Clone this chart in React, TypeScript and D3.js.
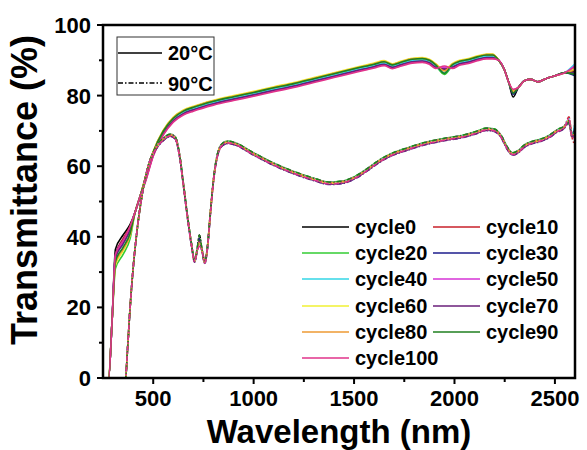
import React from 'react'
import * as d3 from 'd3'

// legend / series names and colours
const cycles = ['cycle0', 'cycle10', 'cycle20', 'cycle30', 'cycle40', 'cycle50', 'cycle60', 'cycle70', 'cycle80', 'cycle90', 'cycle100']
const colors = ['#000000', '#c8202a', '#33cc33', '#1c1c8c', '#33d6e6', '#d633d6', '#f0f033', '#6a1f7a', '#ee9a33', '#1f7f1f', '#e0338a']

// 20°C base curve (nm, %)
const wl20 = [250, 278, 295, 312, 350, 385, 410, 435, 460, 500, 550, 600, 650, 700, 800, 900, 1000, 1100, 1200, 1300, 1400, 1500, 1600, 1650, 1690, 1730, 1790, 1840, 1875, 1905, 1950, 1990, 2025, 2070, 2110, 2160, 2190, 2220, 2248, 2270, 2292, 2318, 2348, 2380, 2415, 2455, 2500, 2550, 2600]
const t20 = [0, 0, 16, 33, 38, 42, 47, 51.5, 56, 63.5, 69.5, 73.2, 75.2, 76.3, 78, 79.3, 80.5, 81.8, 83, 84.4, 85.8, 87.2, 88.5, 89.2, 88.3, 89, 89.9, 90.1, 89.6, 88.4, 87.5, 88.4, 89.3, 89.8, 90.5, 91.1, 91.1, 90, 87.4, 83.8, 81, 82.3, 84.2, 84.6, 83.9, 84.8, 85.6, 86.5, 87]
// per-cycle readings for 20°C
const at312 = [36.5, 35, 31, 35, 34, 34.5, 32, 34, 32.5, 33, 35]
const at350 = [40.5, 39.5, 35, 39, 38, 38.5, 36, 38, 36.5, 37, 39]
const at385 = [43.5, 43, 39.5, 42.5, 42, 42.5, 40.5, 42, 40.5, 41, 43]
const level20 = [0.5, 0.2, 0.1, -0.2, 0, -0.5, 0.7, -0.3, 0.5, 0.4, -0.7]
const dip1950 = [86.4, 87.6, 86, 87.2, 86.5, 88, 87.3, 87.5, 87, 86.3, 88.4]
const dip2292 = [79.6, 81.2, 81, 80.4, 81.3, 81.6, 81.4, 80.9, 81.2, 80.7, 81.8]
const end20 = [87, 87.6, 86, 85.6, 89, 88.5, 87.6, 86.5, 87.2, 86, 88.2]

// 90°C base curve
const wl90 = [250, 362, 372, 385, 400, 420, 445, 475, 510, 550, 585, 610, 630, 650, 670, 690, 706, 718, 730, 742, 757, 770, 785, 800, 820, 845, 870, 900, 1000, 1100, 1200, 1300, 1380, 1450, 1510, 1570, 1630, 1690, 1760, 1850, 1950, 2050, 2110, 2160, 2200, 2235, 2262, 2290, 2318, 2350, 2390, 2430, 2470, 2510, 2545, 2570, 2585, 2600]
const t90 = [0, 0, 8, 20, 31, 42, 52, 60, 64.8, 67.6, 68.8, 68, 63.5, 55, 46, 38, 33.2, 36, 39, 36.5, 32.8, 37, 47, 56, 63.2, 66.2, 66.8, 66.5, 63.5, 60.6, 58.2, 56.3, 55.2, 55.6, 57, 59.2, 61.6, 63.4, 64.8, 66.4, 67.6, 68.6, 69.6, 70.5, 70.2, 68.2, 65.2, 63.5, 64.2, 65.8, 66.8, 67.4, 68.4, 70, 71, 73, 68.5, 70]
// per-cycle readings for 90°C
const level90 = [0.2, -0.2, 0.3, -0.3, 0, 0.2, -0.1, -0.4, 0.1, 0.3, -0.2]
const bump730 = [40.5, 39.5, 39, 39.5, 38.5, 38, 38.5, 39, 38.5, 40.5, 37.3]
const spike2570 = [73, 74, 72, 72.5, 73.5, 72, 73, 72.5, 73, 72.5, 73.5]
const end90 = [72, 66, 70.5, 71, 72.5, 69, 70, 71, 69.5, 70.5, 68]

const xTicks = [500, 1000, 1500, 2000, 2500]
const xMinor = [750, 1250, 1750, 2250]
const yTicks = [0, 20, 40, 60, 80, 100]
const yMinor = [10, 30, 50, 70, 90]

const W = 587
const H = 450
const left = 103
const right = 575
const top = 25
const bottom = 378
const font = "'Liberation Sans', Arial, sans-serif"

function series20(c: number): [number, number][] {
  return wl20.map((w, i) => {
    let v = t20[i]
    if (w === 312) v = at312[c]
    else if (w === 350) v = at350[c]
    else if (w === 385) v = at385[c]
    else if (w === 1950) v = dip1950[c]
    else if (w === 2292) v = dip2292[c]
    else if (w === 2600) v = end20[c]
    else if (w >= 460 && w <= 2200) v = v + level20[c]
    return [w, v]
  })
}

function series90(c: number): [number, number][] {
  return wl90.map((w, i) => {
    let v = t90[i]
    if (w === 730) v = bump730[c]
    else if (w === 2570) v = spike2570[c]
    else if (w === 2600) v = end90[c]
    else if (w >= 500) v = v + level90[c]
    return [w, v]
  })
}

export default function App() {
  const x = d3.scaleLinear().domain([250, 2600]).range([left, right])
  const y = d3.scaleLinear().domain([0, 100]).range([bottom, top])
  const line = d3
    .line<[number, number]>()
    .x(d => x(d[0]))
    .y(d => y(d[1]))
    .curve(d3.curveMonotoneX)

  const dash = '5 2 1.5 2'
  const rowY = [227, 253, 279, 306, 332, 358]

  return (
    <svg width={W} height={H} style={{ position: 'absolute', left: 0, top: 0, background: '#fff' }} fontFamily={font}>
      <rect x={0} y={0} width={W} height={H} fill="#fff" />
      <defs>
        <clipPath id="plot">
          <rect x={left} y={top - 2} width={right - left} height={bottom - top + 2} />
        </clipPath>
      </defs>

      {/* curves */}
      <g clipPath="url(#plot)" fill="none" strokeWidth={1.6}>
        {cycles.map((c, i) => (
          <path key={'a' + c} d={line(series20(i)) || ''} stroke={colors[i]} />
        ))}
        {cycles.map((c, i) => (
          <path key={'b' + c} d={line(series90(i)) || ''} stroke={colors[i]} strokeDasharray={dash} strokeDashoffset={i * 1.3} />
        ))}
      </g>

      {/* frame */}
      <rect x={left} y={top} width={right - left} height={bottom - top} fill="none" stroke="#000" strokeWidth={2.5} />

      {/* x axis */}
      {xTicks.map(t => (
        <g key={'x' + t}>
          <line x1={x(t)} x2={x(t)} y1={bottom} y2={bottom + 6} stroke="#000" strokeWidth={2} />
          <text x={x(t)} y={406} textAnchor="middle" fontSize={22} fontWeight="bold">{t}</text>
        </g>
      ))}
      {xMinor.map(t => (
        <line key={'xm' + t} x1={x(t)} x2={x(t)} y1={bottom} y2={bottom + 4} stroke="#000" strokeWidth={2} />
      ))}

      {/* y axis */}
      {yTicks.map(t => (
        <g key={'y' + t}>
          <line x1={left - 6} x2={left} y1={y(t)} y2={y(t)} stroke="#000" strokeWidth={2} />
          <text x={left - 12} y={y(t) + 8} textAnchor="end" fontSize={22} fontWeight="bold">{t}</text>
        </g>
      ))}
      {yMinor.map(t => (
        <line key={'ym' + t} x1={left - 4} x2={left} y1={y(t)} y2={y(t)} stroke="#000" strokeWidth={2} />
      ))}

      {/* axis titles */}
      <text x={(left + right) / 2} y={443} textAnchor="middle" fontSize={33} fontWeight="bold">Wavelength (nm)</text>
      <text transform="translate(37, 190) rotate(-90)" textAnchor="middle" fontSize={36} fontWeight="bold">Transmittance (%)</text>

      {/* temperature legend */}
      <rect x={117} y={37} width={97} height={58} fill="#fff" stroke="#333" strokeWidth={1} />
      <line x1={118} x2={162} y1={53} y2={53} stroke="#000" strokeWidth={1.4} />
      <text x={168} y={60} fontSize={20} fontWeight="bold">20°C</text>
      <line x1={118} x2={162} y1={83} y2={83} stroke="#000" strokeWidth={1.4} strokeDasharray={dash} />
      <text x={168} y={91} fontSize={20} fontWeight="bold">90°C</text>

      {/* cycle legend */}
      {cycles.map((c, i) => {
        const col = i % 2
        const row = Math.floor(i / 2)
        const lx = col === 0 ? 302 : 433
        const ly = rowY[row]
        return (
          <g key={'l' + c}>
            <line x1={lx} x2={lx + 47} y1={ly} y2={ly} stroke={colors[i]} strokeWidth={1.6} />
            <text x={lx + 53} y={ly + 7} fontSize={20} fontWeight="bold">{c}</text>
          </g>
        )
      })}
    </svg>
  )
}
